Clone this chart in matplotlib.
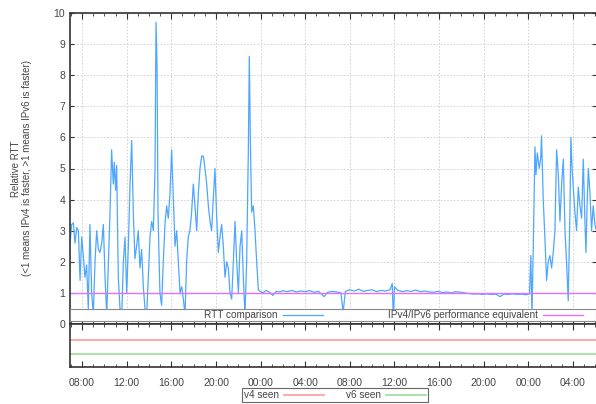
import matplotlib
matplotlib.use('Agg')
import matplotlib.pyplot as plt
from matplotlib.ticker import MultipleLocator, FuncFormatter
from matplotlib.patches import Rectangle

plt.rcParams['font.family'] = ['Liberation Sans', 'DejaVu Sans']

# hours since midnight of day 1, relative RTT (v4/v6)
rtt_hours = [
    6.92, 7.07, 7.22, 7.37, 7.52, 7.67, 7.82, 7.97, 8.11, 8.26, 8.41, 8.56, 8.71, 8.86,
    9.01, 9.16, 9.31, 9.46, 9.61, 9.76, 9.91, 10.06, 10.21, 10.36, 10.50, 10.65, 10.80,
    10.89, 11.01, 11.10, 11.25, 11.40, 11.55, 11.70, 11.85, 12.00, 12.15, 12.30, 12.45,
    12.60, 12.74, 12.89, 13.04, 13.19, 13.34, 13.49, 13.64, 13.79, 13.94, 14.09, 14.24,
    14.39, 14.54, 14.63, 14.72, 14.81, 14.98, 15.13, 15.28, 15.43, 15.58, 15.73, 15.88,
    16.03, 16.18, 16.33, 16.48, 16.63, 16.78, 16.93, 17.08, 17.23, 17.37, 17.52, 17.67,
    17.82, 17.97, 18.12, 18.27, 18.42, 18.57, 18.72, 18.87, 19.02, 19.17, 19.32, 19.47,
    19.61, 19.76, 19.91, 20.06, 20.21, 20.36, 20.51, 20.66, 20.81, 20.96, 21.11, 21.26,
    21.41, 21.56, 21.71, 21.86, 22.01, 22.16, 22.31, 22.45, 22.60, 22.75, 22.90, 22.99,
    23.08, 23.20, 23.35, 23.50, 23.65, 23.80,
    23.95, 24.2, 24.5, 24.8, 25.1, 25.4, 25.7, 26.0, 26.4, 26.8, 27.2, 27.6, 28.0, 28.4,
    28.8, 29.2, 29.5, 29.7, 30.0, 30.4, 30.8, 31.2, 31.4, 31.6, 32.0, 32.4, 32.8, 33.2,
    33.6, 34.0, 34.4, 34.8, 35.2, 35.6, 35.8, 35.9, 36.0, 36.3, 36.7, 37.1, 37.5, 37.9,
    38.3, 38.7, 39.1, 39.5, 39.9, 40.3, 40.7, 41.1, 41.5, 41.9, 42.3, 42.7, 43.1, 43.5,
    43.9, 44.3, 44.7, 45.1, 45.45, 45.8, 46.2, 46.6, 47.0, 47.4, 47.8, 48.1,
    48.22, 48.32, 48.44, 48.59, 48.68, 48.8, 48.97, 49.1, 49.18, 49.33, 49.48, 49.63,
    49.78, 49.93, 50.08, 50.23, 50.38, 50.53, 50.68, 50.83, 50.98, 51.13, 51.28, 51.42,
    51.57, 51.72, 51.81, 51.92, 52.02, 52.17, 52.32, 52.47, 52.62, 52.77, 52.92, 53.05,
    53.16, 53.26, 53.37, 53.52, 53.66, 53.81, 53.96, 54.1,
]
rtt_values = [
    2.6, 3.2, 3.25, 2.6, 3.1, 3.0, 1.4, 2.8, 2.2, 1.5, 1.9, 0.5, 3.2, 1.0,
    0.3, 2.0, 3.0, 2.4, 2.3, 2.6, 3.2, 1.5, 0.3, 2.0, 3.5, 5.6, 4.5,
    5.2, 4.3, 5.1, 1.5, 0.5, 0.2, 2.0, 2.8, 1.0, 2.5, 4.5, 5.9,
    3.5, 2.1, 2.5, 3.0, 1.8, 2.4, 1.2, 0.5, 0.3, 1.5, 2.8, 3.3,
    3.0, 5.0, 9.7, 8.3, 3.5, 1.0, 0.6, 2.0, 3.2, 3.8, 3.4, 4.2,
    5.6, 4.0, 2.5, 3.0, 2.0, 1.0, 1.2, 0.8, 0.3, 2.0, 2.8, 3.0,
    3.6, 4.5, 3.8, 3.0, 4.2, 5.0, 5.4, 5.4, 5.0, 4.5, 3.8, 3.3,
    3.0, 4.0, 5.0, 3.5, 2.3, 2.8, 3.2, 2.5, 1.5, 2.0, 1.8, 1.0,
    0.8, 2.0, 3.3, 2.0, 1.0, 2.5, 3.0, 1.5, 0.3, 2.0, 5.5, 8.6,
    6.0, 3.6, 3.8, 3.0, 2.0, 1.1,
    1.05, 1.0, 1.08, 1.02, 0.92, 1.05, 1.03, 1.07, 1.04, 1.08, 1.03, 1.06, 1.04, 1.07,
    1.02, 1.05, 0.95, 0.88, 1.02, 1.05, 1.03, 1.0, 0.38, 1.05, 1.1, 1.06, 1.12, 1.05,
    1.08, 1.1, 1.04, 1.08, 1.06, 1.1, 1.3, 0.1, 1.2, 1.08, 1.04, 1.07, 1.05, 1.09,
    1.04, 1.06, 1.03, 1.02, 1.05, 1.01, 1.03, 1.0, 1.04, 1.02, 1.0, 0.98, 0.96, 0.97,
    0.95, 0.97, 0.95, 0.96, 0.88, 0.96, 0.95, 0.97, 0.95, 0.96, 0.94, 0.97,
    2.2, 0.3, 2.5, 5.7, 4.8, 5.5, 5.0, 5.3, 6.05, 4.0, 2.8, 1.4,
    2.0, 2.2, 1.8, 2.3, 3.0, 5.6, 4.8, 3.3, 4.5, 5.3, 3.0, 2.0,
    0.75, 3.5, 6.0, 5.0, 4.4, 3.6, 3.0, 4.4, 3.8, 3.4, 5.3, 3.5,
    2.3, 3.8, 5.0, 4.2, 3.0, 3.8, 3.2, 3.0,
]
equiv_hours = [6.92, 54.1]
equiv_values = [1, 1]
v4_seen = [2, 2]
v6_seen = [1, 1]

x_start, x_end = 6.92, 54.06
txt = '#444444'

fig = plt.figure(figsize=(5.96, 4.04), dpi=100)
ax = fig.add_axes([70/596, 1 - 324/404, 526/596, 311/404])
ax2 = fig.add_axes([70/596, 1 - 367/404, 526/596, 43/404])

ax.plot(rtt_hours, rtt_values, color='#4ea6ff', lw=0.9, label='RTT comparison')
ax.plot(equiv_hours, equiv_values, color='#e070ff', lw=1.0,
        label='IPv4/IPv6 performance equivalent')
ax.set_xlim(x_start, x_end)
ax.set_ylim(0, 10)
ax.yaxis.set_major_locator(MultipleLocator(1))
ax.xaxis.set_major_locator(MultipleLocator(4))
ax.xaxis.set_minor_locator(MultipleLocator(1))
ax.grid(True, which='major', color='#cccccc', linestyle=(0, (2, 2)), lw=0.6)
ax.tick_params(axis='x', which='both', direction='in', top=True, bottom=True,
               labelbottom=False, color='#333333')
ax.tick_params(axis='x', which='major', length=4)
ax.tick_params(axis='x', which='minor', length=2)
ax.tick_params(axis='y', direction='in', left=True, right=True, length=3,
               labelsize=7.5, labelcolor=txt, color='#333333')
for side in ['left', 'top', 'bottom']:
    ax.spines[side].set_color('#333333')
    ax.spines[side].set_linewidth(1.2)
ax.spines['right'].set_visible(False)
ax.set_ylabel('Relative RTT\n(<1 means IPv4 is faster, >1 means IPv6 is faster)',
              fontsize=7, color=txt, linespacing=1.15)
ax.yaxis.set_label_coords(-0.072, 0.5)

# legend strip across the bottom of the upper panel
ax.add_patch(Rectangle((0, 3/311), 1, 12/311, transform=ax.transAxes,
                       facecolor='white', edgecolor='#888888', lw=0.8, zorder=3))
leg = ax.legend(loc='center right', bbox_to_anchor=(0.975, 9/311), ncol=2,
                frameon=False, markerfirst=False, fontsize=7.2, handlelength=4,
                handletextpad=0.5, columnspacing=6.5, borderpad=0, borderaxespad=0)
for t in leg.get_texts():
    t.set_color(txt)
leg.set_zorder(4)

ax2.plot(equiv_hours, v4_seen, color='#ff9a9a', lw=1.2, label='v4 seen')
ax2.plot(equiv_hours, v6_seen, color='#99dd99', lw=1.2, label='v6 seen')
ax2.set_xlim(x_start, x_end)
ax2.set_ylim(0, 3.2)
ax2.set_yticks([])
ax2.xaxis.set_major_locator(MultipleLocator(4))
ax2.xaxis.set_minor_locator(MultipleLocator(1))
ax2.xaxis.set_major_formatter(FuncFormatter(lambda v, p: '%02d:00' % (int(round(v)) % 24)))
ax2.tick_params(axis='x', which='both', direction='in', top=True, bottom=True,
                labelsize=7.5, labelcolor=txt, color='#333333', pad=8)
ax2.tick_params(axis='x', which='major', length=4)
ax2.tick_params(axis='x', which='minor', length=2)
for side in ['left', 'top', 'bottom']:
    ax2.spines[side].set_color('#333333')
    ax2.spines[side].set_linewidth(1.2)
ax2.spines['right'].set_visible(False)
leg2 = ax2.legend(loc='upper center', bbox_to_anchor=(0.504, -0.49), ncol=2,
                  markerfirst=False, fontsize=7.2, handlelength=4, handletextpad=0.5,
                  columnspacing=2.2, borderpad=0.2, borderaxespad=0, fancybox=False,
                  edgecolor='#666666', framealpha=1)
leg2.get_frame().set_linewidth(0.8)
for t in leg2.get_texts():
    t.set_color(txt)

fig.savefig('out.png', dpi=100)
